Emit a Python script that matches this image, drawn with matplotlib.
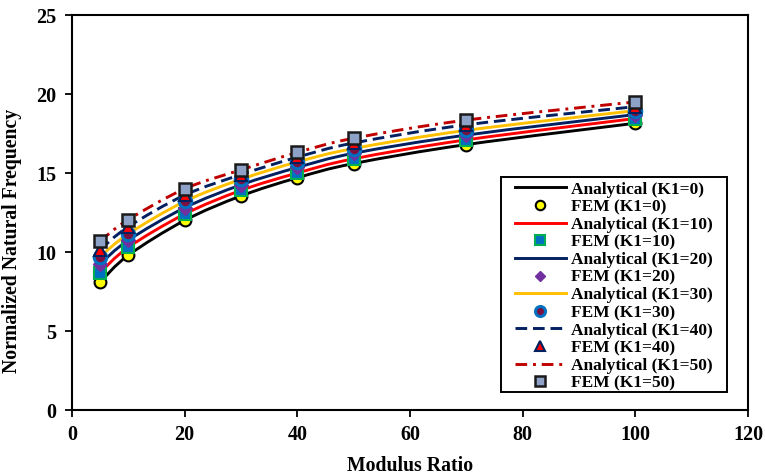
import numpy as np
import matplotlib
matplotlib.use("Agg")
import matplotlib.pyplot as plt
from matplotlib.path import Path
from matplotlib.patches import PathPatch, Rectangle
from matplotlib.lines import Line2D

plt.rcParams['font.family'] = ['Liberation Serif', 'DejaVu Serif']
plt.rcParams['font.weight'] = 'bold'

# Modulus ratio sample points
modulus_ratio = [5, 10, 20, 30, 40, 50, 70, 100]

# Normalized natural frequency for each K1 value
freq_k0 = [8.1, 9.8, 12.0, 13.55, 14.7, 15.6, 16.8, 18.15]
freq_k10 = [8.7, 10.3, 12.4, 13.9, 15.0, 15.9, 17.1, 18.45]
freq_k20 = [9.25, 10.75, 12.8, 14.25, 15.35, 16.25, 17.4, 18.7]
freq_k30 = [9.7, 11.15, 13.2, 14.6, 15.7, 16.55, 17.7, 18.95]
freq_k40 = [10.15, 11.6, 13.6, 14.9, 16.0, 16.9, 18.05, 19.2]
freq_k50 = [10.7, 12.05, 14.0, 15.2, 16.3, 17.2, 18.35, 19.5]

k1_values = [0, 10, 20, 30, 40, 50]
all_freqs = [freq_k0, freq_k10, freq_k20, freq_k30, freq_k40, freq_k50]

line_colors = ['#000000', '#FF0000', '#002060', '#FFC000', '#002060', '#C00000']
line_styles = ['-', '-', '-', '-', (0, (4, 2)), (0, (4, 2, 1, 2))]

marker_shapes = ['o', 's', 'D', 'o', '^', 's']
marker_faces = ['#FFFF00', '#0070C0', '#7030A0', '#7B1040', '#FF0000', '#8EA2C8']
marker_edges = ['#000000', '#00B050', '#7030A0', '#0070C0', '#002060', '#1A1A1A']
marker_sizes = [8.5, 8.5, 7, 9, 8.5, 9]
marker_edge_w = [1.5, 1.5, 1.0, 2.2, 1.5, 1.8]


def smooth_path(xs, ys):
    """Cubic Bezier path through the points (smoothed-line style)."""
    pts = np.column_stack([xs, ys]).astype(float)
    n = len(pts)
    verts = [pts[0]]
    codes = [Path.MOVETO]
    for i in range(n - 1):
        p0 = pts[i - 1] if i > 0 else pts[i]
        p1 = pts[i]
        p2 = pts[i + 1]
        p3 = pts[i + 2] if i + 2 < n else pts[i + 1]
        c1 = p1 + (p2 - p0) / 6.0
        c2 = p2 - (p3 - p1) / 6.0
        verts += [c1, c2, p2]
        codes += [Path.CURVE4] * 3
    return Path(verts, codes)


fig = plt.figure(figsize=(7.65, 4.75), dpi=100)
ax = fig.add_axes([0.0941, 0.1368, 0.8837, 0.8316])

line_handles = []
for k, f, lc, ls in zip(k1_values, all_freqs, line_colors, line_styles):
    patch = PathPatch(smooth_path(modulus_ratio, f), fill=False,
                      edgecolor=lc, linewidth=2.1, linestyle=ls,
                      capstyle='butt', zorder=2)
    ax.add_patch(patch)
    line_handles.append(Line2D([], [], color=lc, lw=2.1, linestyle=ls))

marker_handles = []
for f, ms, mf, me, msz, mew in zip(all_freqs, marker_shapes, marker_faces,
                                   marker_edges, marker_sizes, marker_edge_w):
    ax.plot(modulus_ratio, f, linestyle='none', marker=ms,
            markerfacecolor=mf, markeredgecolor=me,
            markersize=msz, markeredgewidth=mew, zorder=3)
    marker_handles.append(Line2D([], [], linestyle='none', marker=ms,
                                 markerfacecolor=mf, markeredgecolor=me,
                                 markersize=msz * 0.8, markeredgewidth=mew))

# legend entries: analytical line followed by its FEM marker
leg_handles = []
leg_labels = []
for k, hl, hm in zip(k1_values, line_handles, marker_handles):
    leg_handles += [hl, hm]
    leg_labels += [f'Analytical (K1={k})', f'FEM (K1={k})']

ax.set_xlim(0, 120)
ax.set_ylim(0, 25)
ax.set_xticks(np.arange(0, 121, 20))
ax.set_yticks(np.arange(0, 26, 5))
ax.tick_params(axis='both', direction='out', length=5, width=1.3,
               labelsize=14.5, pad=6)
for lab in ax.get_xticklabels() + ax.get_yticklabels():
    lab.set_fontweight('bold')
ax.tick_params(top=False, right=False)
for sp in ax.spines.values():
    sp.set_linewidth(1.5)

ax.set_xlabel('Modulus Ratio', fontsize=14.2, fontweight='bold', labelpad=8)
ax.set_ylabel('Normalized Natural Frequency', fontsize=14.2, fontweight='bold')
ax.yaxis.set_label_coords(-0.074, 0.427)

# legend box drawn separately so the side margins can be wider
ax.add_patch(Rectangle((0.6346, 0.0456), 0.3344, 0.5443,
                       transform=ax.transAxes, facecolor='white',
                       edgecolor='black', linewidth=1.4, zorder=4))
leg = ax.legend(leg_handles, leg_labels, loc='upper left',
                bbox_to_anchor=(0.648, 0.592), fontsize=12.5,
                frameon=False, labelspacing=0.085, handlelength=2.9,
                handletextpad=0.3, borderpad=0.3, borderaxespad=0)
leg.set_zorder(5)
for t in leg.get_texts():
    t.set_fontweight('bold')

fig.savefig('out.png', dpi=100)
